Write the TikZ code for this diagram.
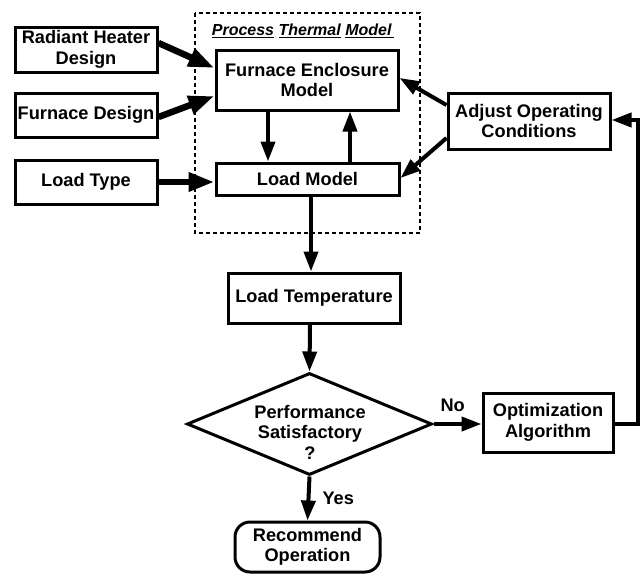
\documentclass[tikz,border=0pt]{standalone}
\usepackage{fontspec}
\setmainfont{Liberation Sans}
\usetikzlibrary{arrows.meta,shapes.geometric}
\begin{document}
\begin{tikzpicture}[x=1pt,y=-1pt,
  txt/.style={font=\fontsize{18.2}{20.5}\selectfont\bfseries, align=center, inner sep=0pt},
  box/.style={txt, draw, line width=3pt},
  thin arr/.style={line width=4pt, -{Triangle[length=20pt,width=14pt]}},
  thick arr/.style={line width=6.5pt, -{Triangle[length=26pt,width=18pt]}},
]
\useasboundingbox (0,0) rectangle (642,573);
% dashed group
\draw[line width=1.5pt, dash pattern=on 4pt off 3pt] (195,13) rectangle (420,233);
\node[font=\fontsize{16}{18}\selectfont\bfseries\itshape, inner sep=0pt] (title) at (303,31)
  {\underline{Process}\ \underline{Thermal}\ \underline{Model\,}};

\node[box, minimum width=142pt, minimum height=45pt] (rhd) at (86,49.5) {Radiant Heater\\Design};
\node[box, minimum width=142pt, minimum height=44pt] (fd) at (86,115) {Furnace Design};
\node[box, minimum width=142pt, minimum height=44pt] (lt) at (86,182) {Load Type};
\node[box, minimum width=182pt, minimum height=60pt] (fem) at (307,80) {Furnace Enclosure\\Model};
\node[box, minimum width=183pt, minimum height=32pt] (lm) at (307.5,179) {Load Model};
\node[box, minimum width=162pt, minimum height=56pt] (aoc) at (529,121) {Adjust Operating\\Conditions};
\node[box, minimum width=172pt, minimum height=50pt] (ltemp) at (314,298) {Load Temperature};
\node[diamond, draw, line width=3pt, minimum width=245pt, minimum height=102pt, inner sep=0pt] (perf) at (309.5,424) {};
\node[txt] (perftext) at (310,432) {Performance\\Satisfactory\\?};
\node[box, minimum width=130pt, minimum height=59pt] (opt) at (548,422.5) {Optimization\\Algorithm};
\node[box, rounded corners=15pt, minimum width=145pt, minimum height=50pt] (rec) at (307.5,547) {Recommend\\Operation};

% inputs
\draw[thick arr] (rhd.east |- 0,43) -- (fem.west |- 0,68);
\draw[thick arr] (fd.east |- 0,117) -- (fem.west |- 0,96);
\draw[thick arr] (lt.east |- 0,182) -- (lm.west |- 0,182);
% internal
\draw[thin arr] (fem.south -| 268,0) -- (lm.north -| 268,0);
\draw[thin arr] (lm.north -| 350,0) -- (fem.south -| 350,0);
% adjust
\draw[thin arr] (aoc.west |- 0,105) -- (fem.east |- 0,78);
\draw[thin arr] (aoc.west |- 0,138) -- (lm.east |- 0,178);
% main flow
\draw[thin arr] (lm.south -| 311,0) -- (ltemp.north -| 311,0);
\draw[thin arr] (ltemp.south -| 310,0) -- (perf.north);
\draw[thin arr] (perf.east) -- (opt.west |- perf.east)
  node[txt, pos=0.4, above=10pt] (no) {No};
\draw[thin arr] (perf.south) -- (rec.north)
  node[txt, midway, right=12pt] (yes) {Yes};
\coordinate (fb) at (638,424);
\draw[thin arr] (opt.east |- fb) -- (fb) -- (fb |- 0,120) -- (aoc.east |- 0,120);
\end{tikzpicture}
\end{document}
